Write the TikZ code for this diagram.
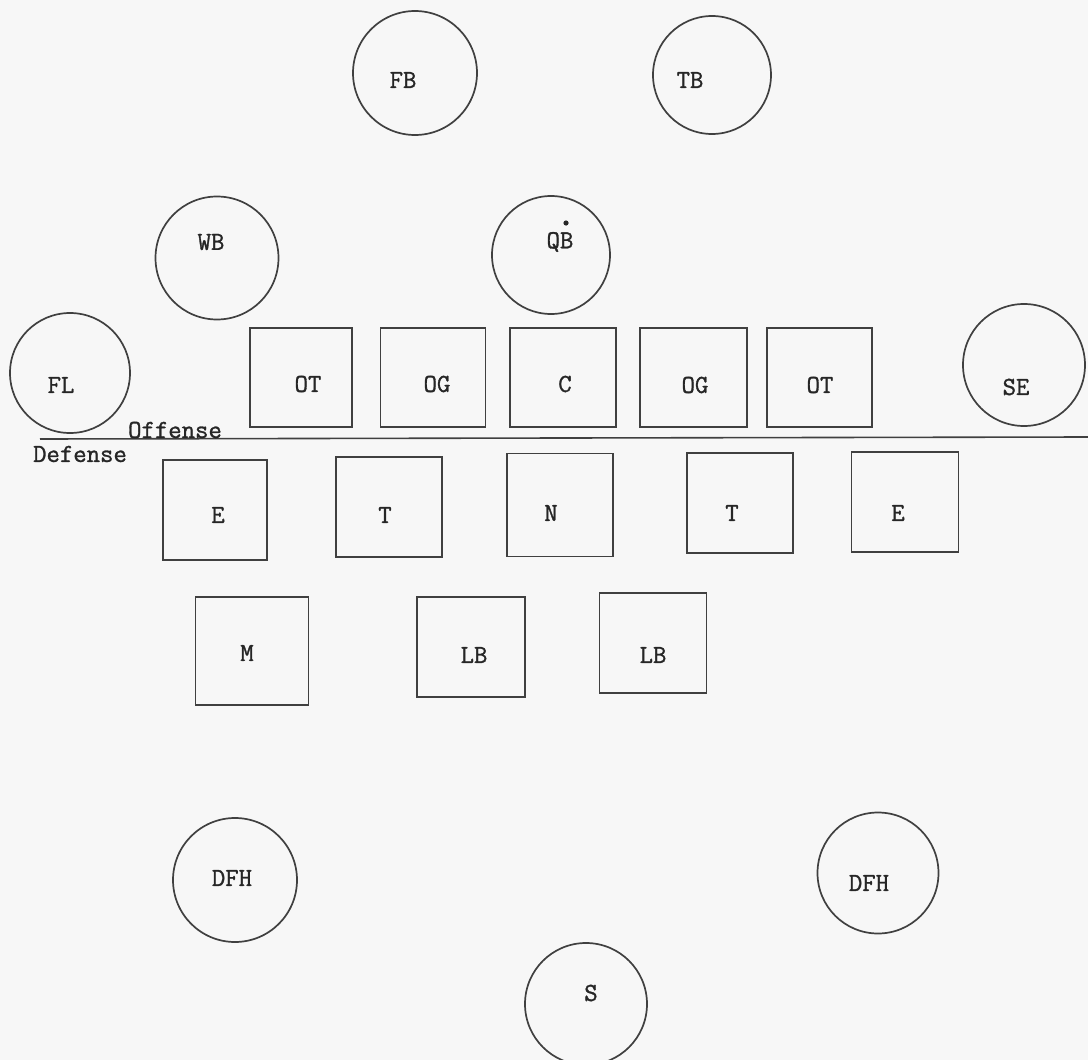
\documentclass[tikz,border=0pt]{standalone}
\usepackage{fontspec}
\newfontfamily\typewriter[FakeBold=1.2]{Latin Modern Mono}
\begin{document}
\begin{tikzpicture}[x=1pt,y=-1pt,
  ink/.style={draw=black!75, line width=1.7pt},
  player/.style={ink, circle, inner sep=0pt},
  box/.style={ink, rectangle, inner sep=0pt},
  tag/.style={font=\fontsize{26}{30}\selectfont\typewriter, text=black!85, inner sep=0pt}]
\fill[black!3] (0,0) rectangle (1088,1060);
\useasboundingbox (0,0) rectangle (1088,1060);

% backs
\node[player, minimum size=124pt] (fb) at (415,73) {};
\node[tag] (fbt) at (403,80) {FB};
\node[player, minimum size=118pt] (tb) at (712,75) {};
\node[tag] (tbt) at (690,80) {TB};
\node[player, minimum size=123pt] (wb) at (217,258) {};
\node[tag] (wbt) at (211,242) {WB};
\node[player, minimum size=118pt] (qb) at (551,255) {};
\node[tag] (qbt) at (560,242) {QB};
\fill[black!85] (566,223) circle (2.6pt) coordinate (ball);
\node[player, minimum size=120pt] (fl) at (70,373) {};
\node[tag] (flt) at (61,385) {FL};
\node[player, minimum size=122pt] (se) at (1024,365) {};
\node[tag] (set) at (1016,387) {SE};

% offensive line
\node[box, minimum width=102pt, minimum height=99pt] (ot1) at (301,377.5) {};
\node[tag] (ot1t) at (308,384) {OT};
\node[box, minimum width=105pt, minimum height=99pt] (og1) at (433,377.5) {};
\node[tag] (og1t) at (437,384) {OG};
\node[box, minimum width=106pt, minimum height=99pt] (c) at (563,377.5) {};
\node[tag] (ct) at (565,384) {C};
\node[box, minimum width=107pt, minimum height=99pt] (og2) at (693.5,377.5) {};
\node[tag] (og2t) at (695,385) {OG};
\node[box, minimum width=105pt, minimum height=99pt] (ot2) at (819.5,377.5) {};
\node[tag] (ot2t) at (820,385) {OT};

% scrimmage line
\coordinate (lineL) at (40,439);
\coordinate (lineR) at (1088,437);
\draw[draw=black!75, line width=1.6pt] (lineL) -- (lineR);
\node[tag] (off) at (175,430) {Offense};
\node[tag] (def) at (80,454) {Defense};

% defensive line
\node[box, minimum width=104pt, minimum height=100pt] (e1) at (215,510) {};
\node[tag] (e1t) at (218,515) {E};
\node[box, minimum width=106pt, minimum height=100pt] (t1) at (389,507) {};
\node[tag] (t1t) at (385,515) {T};
\node[box, minimum width=106pt, minimum height=103pt] (n) at (560,505) {};
\node[tag] (nt) at (551,513) {N};
\node[box, minimum width=106pt, minimum height=100pt] (t2) at (740,503) {};
\node[tag] (t2t) at (732,513) {T};
\node[box, minimum width=107pt, minimum height=100pt] (e2) at (905,502) {};
\node[tag] (e2t) at (898,513) {E};

% linebackers
\node[box, minimum width=113pt, minimum height=108pt] (m) at (252,651) {};
\node[tag] (mt) at (247,653) {M};
\node[box, minimum width=108pt, minimum height=100pt] (lb1) at (471,647) {};
\node[tag] (lb1t) at (474,655) {LB};
\node[box, minimum width=107pt, minimum height=100pt] (lb2) at (653,643) {};
\node[tag] (lb2t) at (653,655) {LB};

% secondary
\node[player, minimum size=124pt] (dfh1) at (235,880) {};
\node[tag] (dfh1t) at (232,878) {DFH};
\node[player, minimum size=121pt] (dfh2) at (878,873) {};
\node[tag] (dfh2t) at (869,883) {DFH};
\node[player, minimum size=122pt] (s) at (586,1004) {};
\node[tag] (st) at (591,993) {S};
\end{tikzpicture}
\end{document}
